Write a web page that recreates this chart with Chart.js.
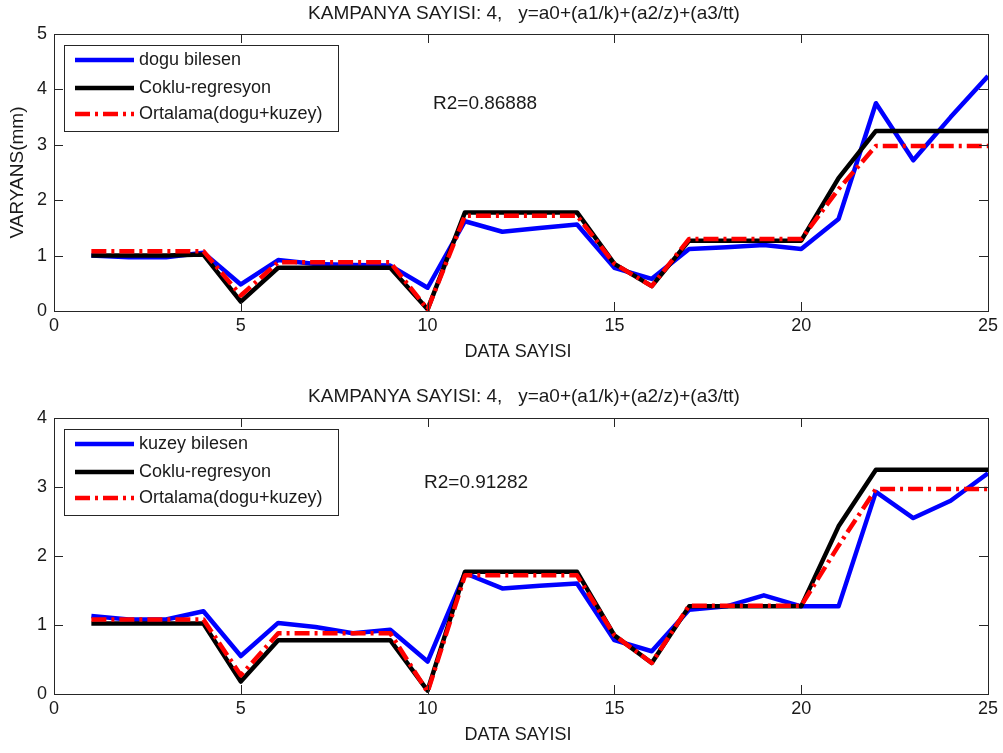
<!DOCTYPE html>
<html>
<head>
<meta charset="utf-8">
<script src="https://cdn.jsdelivr.net/npm/chart.js@4.4.1/dist/chart.umd.min.js"></script>
<style>
  html, body { margin: 0; padding: 0; background: #fff; }
  #wrap { position: relative; width: 1003px; height: 753px; overflow: hidden; }
  canvas { position: absolute; left: 0; }
  #c1 { top: 0; }
  #c2 { top: 383px; }
</style>
</head>
<body>
<div id="wrap">
  <canvas id="c1" width="1003" height="370"></canvas>
  <canvas id="c2" width="1003" height="370"></canvas>
</div>
<script>
/* ── Data ─────────────────────────────────────────────────────── */

const dataSayisi = [1, 2, 3, 4, 5, 6, 7, 8, 9, 10, 11, 12, 13, 14, 15, 16, 17, 18, 19, 20, 21, 22, 23, 24, 25];

// top panel
const doguBilesen   = [1.00, 0.97, 0.97, 1.05, 0.48, 0.92, 0.85, 0.83, 0.82, 0.42, 1.62, 1.43, 1.50, 1.56, 0.78, 0.58, 1.12, 1.15, 1.19, 1.12, 1.66, 3.75, 2.72, 3.50, 4.24];
const cokluDogu     = [1.00, 1.00, 1.00, 1.02, 0.17, 0.78, 0.78, 0.78, 0.78, 0.03, 1.78, 1.78, 1.78, 1.78, 0.85, 0.45, 1.27, 1.27, 1.27, 1.27, 2.40, 3.25, 3.25, 3.25, 3.25];
const ortalamaDogu  = [1.08, 1.08, 1.08, 1.08, 0.28, 0.88, 0.88, 0.88, 0.88, 0.03, 1.72, 1.72, 1.72, 1.72, 0.85, 0.45, 1.30, 1.30, 1.30, 1.30, 2.20, 2.98, 2.98, 2.98, 2.98];

// bottom panel
const kuzeyBilesen  = [1.13, 1.08, 1.08, 1.20, 0.55, 1.03, 0.97, 0.88, 0.93, 0.47, 1.75, 1.53, 1.57, 1.60, 0.78, 0.62, 1.22, 1.27, 1.43, 1.27, 1.27, 2.93, 2.55, 2.80, 3.20];
const cokluKuzey    = [1.02, 1.02, 1.02, 1.02, 0.18, 0.78, 0.78, 0.78, 0.78, 0.05, 1.77, 1.77, 1.77, 1.77, 0.85, 0.45, 1.27, 1.27, 1.27, 1.27, 2.43, 3.25, 3.25, 3.25, 3.25];
const ortalamaKuzey = [1.08, 1.08, 1.08, 1.08, 0.27, 0.88, 0.88, 0.88, 0.88, 0.03, 1.72, 1.72, 1.72, 1.72, 0.85, 0.45, 1.28, 1.28, 1.28, 1.28, 2.15, 2.97, 2.97, 2.97, 2.97];

const xTicks = [0, 5, 10, 15, 20, 25];

const TITLE = 'KAMPANYA SAYISI: 4,   y=a0+(a1/k)+(a2/z)+(a3/tt)';
const FONT  = '"Liberation Sans", Arial, sans-serif';
const RED_DASH = [15, 5, 3, 5];

/* ── Frame plugin: box, inward ticks, titles, legend ─────────── */

const matlabFrame = {
  id: 'matlabFrame',
  afterDraw(chart, args, opts) {
    const { ctx, chartArea: a, scales: { x, y } } = chart;
    ctx.save();

    // axes box
    ctx.strokeStyle = '#262626';
    ctx.lineWidth = 1;
    ctx.strokeRect(a.left + 0.5, a.top + 0.5, a.right - a.left, a.bottom - a.top);

    // inward tick marks on all four sides
    const len = 9;
    ctx.beginPath();
    xTicks.forEach(v => {
      const px = Math.round(x.getPixelForValue(v)) + 0.5;
      ctx.moveTo(px, a.bottom); ctx.lineTo(px, a.bottom - len);
      ctx.moveTo(px, a.top);    ctx.lineTo(px, a.top + len);
    });
    for (let v = 0; v <= opts.yMax; v++) {
      const py = Math.round(y.getPixelForValue(v)) + 0.5;
      ctx.moveTo(a.left, py);  ctx.lineTo(a.left + len, py);
      ctx.moveTo(a.right, py); ctx.lineTo(a.right - len, py);
    }
    ctx.stroke();

    // title + axis labels
    ctx.fillStyle = '#1a1a1a';
    ctx.textAlign = 'center';
    ctx.textBaseline = 'middle';
    const cx = (a.left + a.right) / 2;
    ctx.font = `19px ${FONT}`;
    ctx.fillText(TITLE, cx + 3, 14);
    ctx.font = `18px ${FONT}`;
    ctx.fillText('DATA SAYISI', cx - 3, 352);
    if (opts.yLabel) {
      ctx.font = `19px ${FONT}`;
      ctx.save();
      ctx.translate(18, (a.top + a.bottom) / 2);
      ctx.rotate(-Math.PI / 2);
      ctx.fillText(opts.yLabel, 0, 0);
      ctx.restore();
    }

    // R2 annotation
    ctx.font = `19px ${FONT}`;
    ctx.textAlign = 'left';
    ctx.fillText(opts.r2, opts.r2x, a.top + opts.r2dy);

    // legend box
    const lx = 64, ly = a.top + 11, lw = 274, lh = 86;
    ctx.fillStyle = '#fff';
    ctx.fillRect(lx, ly, lw, lh);
    ctx.strokeStyle = '#262626';
    ctx.lineWidth = 1;
    ctx.strokeRect(lx + 0.5, ly + 0.5, lw, lh);

    ctx.font = `18px ${FONT}`;
    const rows = [26, 54, 80];
    chart.data.datasets.forEach((ds, i) => {
      const ry = a.top + rows[i];
      ctx.beginPath();
      ctx.strokeStyle = ds.borderColor;
      ctx.lineWidth = 4.5;
      ctx.setLineDash(ds.borderDash || []);
      ctx.moveTo(75, ry); ctx.lineTo(134, ry);
      ctx.stroke();
      ctx.setLineDash([]);
      ctx.fillStyle = '#1a1a1a';
      ctx.fillText(ds.label, 139, ry);
    });

    ctx.restore();
  }
};

/* ── Chart builder ───────────────────────────────────────────── */

function pts(values) {
  return dataSayisi.map((d, i) => ({ x: d, y: values[i] }));
}

function buildPanel(canvasId, compName, comp, coklu, ortalama, panel) {
  return new Chart(document.getElementById(canvasId), {
    type: 'line',
    data: {
      datasets: [
        { label: compName, data: pts(comp), borderColor: '#0000ff', borderWidth: 4.5, order: 3 },
        { label: 'Coklu-regresyon', data: pts(coklu), borderColor: '#000000', borderWidth: 4.5, order: 2 },
        { label: 'Ortalama(dogu+kuzey)', data: pts(ortalama), borderColor: '#ff0000', borderWidth: 4.5,
          borderDash: RED_DASH, order: 1 },
      ],
    },
    options: {
      responsive: false,
      animation: false,
      events: [],
      elements: { point: { radius: 0 }, line: { tension: 0, borderJoinStyle: 'round' } },
      layout: { padding: { left: 0, right: 15, top: panel.top, bottom: 0 } },
      plugins: {
        legend: { display: false },
        tooltip: { enabled: false },
        matlabFrame: panel,
      },
      scales: {
        x: {
          type: 'linear', min: 0, max: 25,
          afterBuildTicks: s => { s.ticks = xTicks.map(v => ({ value: v })); },
          afterFit: s => { s.height = 370 - 311; },
          grid: { display: false, drawTicks: false },
          border: { display: false },
          ticks: { color: '#1a1a1a', font: { family: FONT, size: 18 }, padding: 4, maxRotation: 0 },
        },
        y: {
          min: 0, max: panel.yMax,
          afterFit: s => { s.width = 54; },
          grid: { display: false, drawTicks: false },
          border: { display: false },
          ticks: { stepSize: 1, color: '#1a1a1a', font: { family: FONT, size: 18 }, padding: 7 },
        },
      },
    },
    plugins: [matlabFrame],
  });
}

buildPanel('c1', 'dogu bilesen', doguBilesen, cokluDogu, ortalamaDogu,
  { top: 34, yMax: 5, yLabel: 'VARYANS(mm)', r2: 'R2=0.86888', r2x: 433, r2dy: 70 });

buildPanel('c2', 'kuzey bilesen', kuzeyBilesen, cokluKuzey, ortalamaKuzey,
  { top: 35, yMax: 4, yLabel: null, r2: 'R2=0.91282', r2x: 424, r2dy: 65 });
</script>
</body>
</html>
